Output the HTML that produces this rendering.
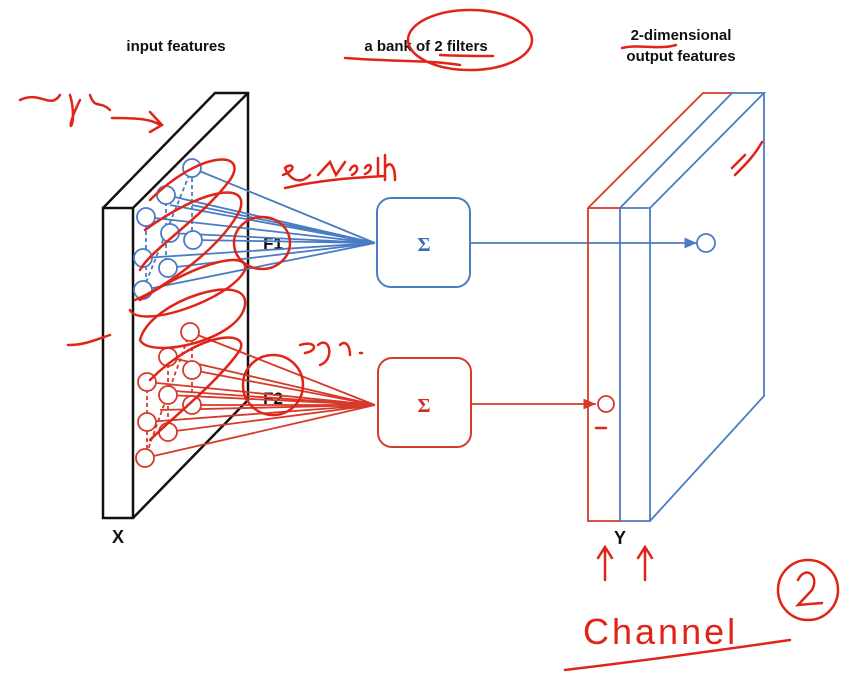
<!DOCTYPE html>
<html><head><style>body{margin:0;background:#fff}svg{display:block}text{font-family:"Liberation Sans",sans-serif}</style></head>
<body>
<svg width="864" height="698" viewBox="0 0 864 698">
<defs>
<marker id="ab" markerWidth="8" markerHeight="8" refX="7" refY="4" orient="auto"><path d="M0,1 L7,4 L0,7z" fill="#4a7cc4"/></marker>
<marker id="ar" markerWidth="8" markerHeight="8" refX="7" refY="4" orient="auto"><path d="M0,1 L7,4 L0,7z" fill="#d63a2a"/></marker>
</defs>
<g font-size="15" font-weight="bold" fill="#111" text-anchor="middle">
<text x="176" y="51">input features</text>
<text x="426" y="51">a bank of 2 filters</text>
<text x="681" y="40">2-dimensional</text>
<text x="681" y="61">output features</text>
<text x="118" y="543" font-size="18">X</text>
<text x="620" y="544" font-size="18">Y</text>
<text x="273" y="249" font-size="17">F1</text>
<text x="273" y="404" font-size="17">F2</text>
</g>
<!-- left slab -->
<g stroke="#111" stroke-width="2.5" fill="none">
<rect x="103" y="208" width="30" height="310"/>
<path d="M103,208 L215,93 L248,93 L248,400 L133,518 M133,208 L248,93"/>
</g>
<!-- blue filter -->
<g stroke="#4a7cc4" stroke-width="1.8" fill="none">
<path d="M192,168 L375,243 M166,195 L375,243 M146,217 L375,243 M170,233 L375,243 M193,240 L375,243 M143,258 L375,243 M168,268 L375,243 M143,290 L375,243 M192,205 L375,243 M170,205 L375,243" />
<path d="M192,168 L143,290 M166,195 V275 M146,217 V290 M192,178 V240" stroke-dasharray="4,3"/>
<g fill="#fff">
<circle cx="192" cy="168" r="9"/><circle cx="166" cy="195" r="9"/><circle cx="146" cy="217" r="9"/><circle cx="170" cy="233" r="9"/><circle cx="193" cy="240" r="9"/><circle cx="143" cy="258" r="9"/><circle cx="168" cy="268" r="9"/><circle cx="143" cy="290" r="9"/>
</g>
<rect x="377" y="198" width="93" height="89" rx="14" stroke-width="2"/>
<path d="M470,243 L697,243" marker-end="url(#ab)"/>
<circle cx="706" cy="243" r="9"/>
<path d="M620,208 V521 H650 V208 Z M620,208 L732,93 H764 L650,208 M764,93 V396 L650,521"/>
</g>
<text x="424" y="251" font-size="20" font-weight="bold" fill="#3a6cb4" text-anchor="middle" style="font-family:'Liberation Serif',serif">Σ</text>
<!-- red filter -->
<g stroke="#d63a2a" stroke-width="1.8" fill="none">
<path d="M190,332 L375,405 M168,357 L375,405 M192,370 L375,405 M147,382 L375,405 M168,395 L375,405 M192,405 L375,405 M147,422 L375,405 M168,432 L375,405 M145,458 L375,405 M160,390 L375,405 M160,410 L375,405" />
<path d="M190,332 L145,458 M168,357 V440 M147,382 V458 M192,340 V405" stroke-dasharray="4,3"/>
<g fill="#fff">
<circle cx="190" cy="332" r="9"/><circle cx="168" cy="357" r="9"/><circle cx="192" cy="370" r="9"/><circle cx="147" cy="382" r="9"/><circle cx="168" cy="395" r="9"/><circle cx="192" cy="405" r="9"/><circle cx="147" cy="422" r="9"/><circle cx="168" cy="432" r="9"/><circle cx="145" cy="458" r="9"/>
</g>
<rect x="378" y="358" width="93" height="89" rx="14" stroke-width="2"/>
<path d="M471,404 L596,404" marker-end="url(#ar)"/>
<circle cx="606" cy="404" r="8"/>
<path d="M588,208 V521 H620 M588,208 L703,93 H732 M588,208 H620"/>
</g>
<text x="424" y="412" font-size="20" font-weight="bold" fill="#c83020" text-anchor="middle" style="font-family:'Liberation Serif',serif">Σ</text>
<!-- annotations -->
<g stroke="#e02418" stroke-width="2.5" fill="none" stroke-linecap="round">
<path d="M150,200 C200,150 250,150 230,180 C200,220 150,250 140,270 M145,230 C200,190 250,180 240,210 C220,250 160,290 135,300 M140,300 C200,260 250,250 245,270 C230,300 140,330 130,310"/>
<path d="M140,340 C150,300 250,270 245,305 C240,340 150,360 140,340"/>
<ellipse cx="262" cy="243" rx="28" ry="26"/>
<ellipse cx="273" cy="385" rx="30" ry="30"/>
<path d="M150,380 C200,330 250,330 240,350 C220,380 170,420 150,440"/>
<ellipse cx="470" cy="40" rx="62" ry="30"/>
<path d="M345,58 C400,62 430,60 460,65 M440,55 C460,56 480,56 493,56 M622,48 C640,44 660,50 676,45"/>
<path d="M112,118 C130,118 150,118 160,125 M150,112 L162,125 L150,132"/>
<path d="M20,100 C40,90 50,110 60,95 M70,95 C80,130 60,140 80,100 M90,95 C95,110 100,100 110,110"/>
<path d="M68,345 C85,345 95,340 110,335"/>
<path d="M283,175 C300,168 290,162 285,168 C290,180 300,185 310,175 M318,175 L330,162 L336,175 L345,162 M350,170 C355,160 362,170 352,175 M365,168 C370,160 375,170 365,174 M378,158 L378,176 M385,155 V180 M385,168 C390,160 395,165 395,180 M285,188 C320,180 350,178 385,176"/>
<path d="M300,345 C315,340 320,350 305,353 M318,345 C330,335 335,360 320,365 M340,345 C345,340 350,345 350,355 M360,353 L362,353"/>
<path d="M732,168 L745,155 M735,175 C745,165 755,155 762,142"/>
<path d="M596,428 L606,428"/>
<path d="M605,580 V548 M598,558 L605,547 L612,558 M645,580 V548 M638,558 L645,547 L652,558"/>
<path d="M565,670 C650,660 720,650 790,640"/>
<circle cx="808" cy="590" r="30"/>
<path d="M798,580 C805,565 820,575 812,590 L798,605 L822,603"/>
</g>
<text x="583" y="644" font-size="36" fill="#e02418" letter-spacing="3">Channel</text>
</svg>
</body></html>
